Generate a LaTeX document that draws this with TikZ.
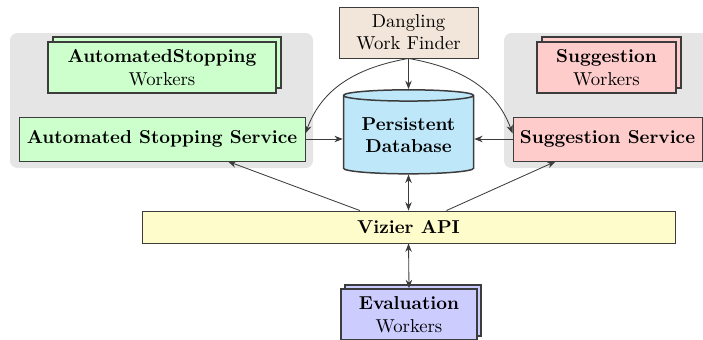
\documentclass[tikz,border=0pt]{standalone}
\usetikzlibrary{shapes.geometric,arrows.meta}
\newcommand\pxu{0.535pt}
\definecolor{dbblue}{RGB}{190,232,250}
\definecolor{linegray}{RGB}{60,60,60}
\begin{document}
\begin{tikzpicture}[x=0.535pt,y=-0.535pt,
  box/.style={draw=linegray,line width=0.5pt,inner sep=0pt,align=center},
  stack/.style={draw=linegray,line width=0.9pt,inner sep=0pt,align=center,minimum width=#1},
  panel/.style={fill=gray!20,rounded corners=4pt},
  arr/.style={draw=linegray,line width=0.45pt,-{Stealth[length=4.5pt,width=3.5pt]}},
  darr/.style={draw=linegray,line width=0.45pt,{Stealth[length=4.5pt,width=3.5pt]}-{Stealth[length=4.5pt,width=3.5pt]}}]
\useasboundingbox (0,0) rectangle (703,339);
\clip (0,0) rectangle (703,339);
% panels
\fill[panel] (10,33) rectangle (313,168);
\fill[panel] (504,33) rectangle (712,168);
% automated stopping workers
\node[stack=228*\pxu,minimum height=51*\pxu,fill=green!20] (aswb) at (167,62.5) {};
\node[stack=228*\pxu,minimum height=51*\pxu,fill=green!20] (asw) at (162,67.5) {\textbf{AutomatedStopping}\\Workers};
\node[box,minimum width=286*\pxu,minimum height=44*\pxu,fill=green!20] (ass) at (162,139) {\textbf{Automated Stopping Service}};
% suggestion workers
\node[stack=139*\pxu,minimum height=51*\pxu,fill=red!20] (swb) at (611.5,62.5) {};
\node[stack=139*\pxu,minimum height=51*\pxu,fill=red!20] (sw) at (606.5,67.5) {\textbf{Suggestion}\\Workers};
\node[box,minimum width=189*\pxu,minimum height=44*\pxu,fill=red!20] (ss) at (607.5,139) {\textbf{Suggestion Service}};
% dangling
\node[box,minimum width=139*\pxu,minimum height=51*\pxu,fill=brown!20] (dwf) at (408.5,32.5) {Dangling\\Work Finder};
% database
\node[box,line width=0.8pt,cylinder,shape border rotate=90,aspect=0.12,minimum width=130*\pxu,minimum height=84*\pxu,fill=dbblue] (db) at (408.5,135) {\textbf{Persistent}\\\textbf{Database}};
% vizier
\node[box,minimum width=533*\pxu,minimum height=32*\pxu,fill=yellow!20] (viz) at (408.5,227) {\textbf{Vizier API}};
% evaluation workers
\node[stack=136*\pxu,minimum height=51*\pxu,fill=blue!20] (ewb) at (413,310.5) {};
\node[stack=136*\pxu,minimum height=51*\pxu,fill=blue!20] (ew) at (409,314.5) {\textbf{Evaluation}\\Workers};
% connectors
\draw[arr] (dwf.south) -- (db.north);
\draw[arr] (dwf.south) to[out=190,in=70] ([yshift=3pt]ass.east);
\draw[arr] (dwf.south) to[out=-10,in=110] ([yshift=3pt]ss.west);
\draw[arr] (ass.east) -- (ass.east -| db.west);
\draw[arr] (ss.west) -- (ss.west -| db.east);
\draw[darr] (db.south) -- (viz.north);
\draw[darr] (viz.south) -- (ew.north);
\draw[arr] ([xshift=-26pt]viz.north) -- ([xshift=35.3pt]ass.south);
\draw[arr] ([xshift=20.3pt]viz.north) -- ([xshift=-27.8pt]ss.south);
\end{tikzpicture}
\end{document}
